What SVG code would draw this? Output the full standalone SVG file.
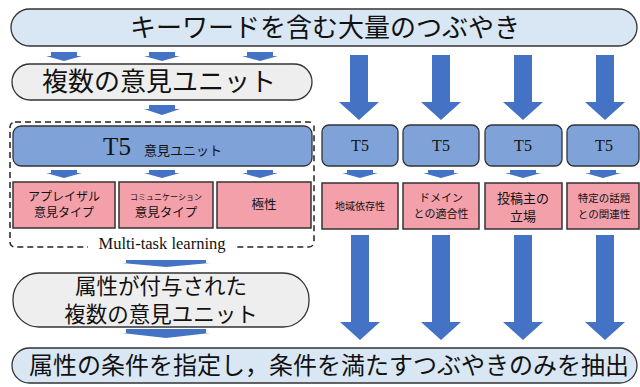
<svg xmlns="http://www.w3.org/2000/svg" width="640" height="387" viewBox="0 0 640 387">
<style>
.jp{font-family:"Noto Sans CJK JP","Noto Sans",sans-serif;fill:#111;text-anchor:middle}
.se{font-family:"Liberation Serif","DejaVu Serif",serif;fill:#111;text-anchor:middle}
.pillb{fill:#d9e7f4;stroke:#333;stroke-width:1.3}
.pillg{fill:#eeeeee;stroke:#333;stroke-width:1.3}
.t5{fill:#7fa2d8;stroke:#333;stroke-width:1.3}
.pink{fill:#f4a0ab;stroke:#333;stroke-width:1.5}
.arr{fill:#4472c4}
</style>
<rect width="640" height="387" fill="#fff"/>

<g id="connectors">
  <path class="arr" d="M51 52h26v4h5l-18 5l-18-5h5z"/>
  <path class="arr" d="M149 52h26v4h5l-18 5l-18-5h5z"/>
  <path class="arr" d="M247 52h26v4h5l-18 5l-18-5h5z"/>
  <path class="arr" d="M149 105h26v4h5l-18 6l-18-6h5z"/>
  <path class="arr" d="M51 170h26v3h5l-18 5l-18-5h5z"/>
  <path class="arr" d="M149 170h26v3h5l-18 5l-18-5h5z"/>
  <path class="arr" d="M247 170h26v3h5l-18 5l-18-5h5z"/>
  <path class="arr" d="M347 170h26v3h5l-18 5l-18-5h5z"/>
  <path class="arr" d="M428 170h26v3h5l-18 5l-18-5h5z"/>
  <path class="arr" d="M510 170h26v3h5l-18 5l-18-5h5z"/>
  <path class="arr" d="M590 170h26v3h5l-18 5l-18-5h5z"/>
  <path class="arr" d="M126 260h80v3h4l-44 4l-44-4h4z"/>
  <path class="arr" d="M126 329h80v4h4l-44 5l-44-5h4z"/>
  <path class="arr" d="M350 55h18v47h11l-20 18l-20-18h11z"/>
  <path class="arr" d="M432 55h18v47h11l-20 18l-20-18h11z"/>
  <path class="arr" d="M514 55h18v47h11l-20 18l-20-18h11z"/>
  <path class="arr" d="M596 55h18v47h11l-20 18l-20-18h11z"/>
  <path class="arr" d="M351 235h18v87h11l-20 18l-20-18h11z"/>
  <path class="arr" d="M432 235h18v87h11l-20 18l-20-18h11z"/>
  <path class="arr" d="M514 235h18v87h11l-20 18l-20-18h11z"/>
  <path class="arr" d="M596 235h18v87h11l-20 18l-20-18h11z"/>
</g>

<g id="top">
  <rect class="pillb" x="11" y="9" width="626" height="37" rx="18.5"/>
  <text class="jp" x="325" y="37" font-size="26">キーワードを含む大量のつぶやき</text>
</g>

<g id="units">
  <rect class="pillg" x="12" y="64" width="300" height="36" rx="18"/>
  <text class="jp" x="159" y="91" font-size="26">複数の意見ユニット</text>
</g>

<g id="mtl">
  <rect x="10" y="122" width="304" height="125" rx="5" fill="none" stroke="#222" stroke-width="1.5" stroke-dasharray="6 4"/>
  <rect x="88" y="238" width="146" height="14" fill="#fff"/>
  <text class="se" x="162" y="249" font-size="16.5">Multi-task learning</text>
</g>

<g id="t5main">
  <rect class="t5" x="13" y="126" width="299" height="40" rx="8"/>
  <text class="se" x="117" y="155" font-size="25">T5</text>
  <text class="jp" x="183" y="155" font-size="13">意見ユニット</text>
</g>

<g id="appraisal">
  <rect class="pink" x="13" y="182" width="102" height="46"/>
  <text class="jp" x="64" y="201" font-size="12">アプレイザル</text>
  <text class="jp" x="64" y="217" font-size="12">意見タイプ</text>
</g>
<g id="communication">
  <rect class="pink" x="119" y="182" width="94" height="46"/>
  <text class="jp" x="166" y="200" font-size="8">コミュニケーション</text>
  <text class="jp" x="166" y="217" font-size="12.5">意見タイプ</text>
</g>
<g id="polarity">
  <rect class="pink" x="217" y="182" width="94" height="46"/>
  <text class="jp" x="264" y="209" font-size="12.5">極性</text>
</g>

<g id="t5a">
  <rect class="t5" x="322" y="125" width="76" height="41" rx="7"/>
  <text class="se" x="360" y="151" font-size="16">T5</text>
</g>
<g id="t5b">
  <rect class="t5" x="403" y="125" width="76" height="41" rx="7"/>
  <text class="se" x="441" y="151" font-size="16">T5</text>
</g>
<g id="t5c">
  <rect class="t5" x="485" y="125" width="77" height="41" rx="7"/>
  <text class="se" x="523" y="151" font-size="16">T5</text>
</g>
<g id="t5d">
  <rect class="t5" x="567" y="125" width="72" height="41" rx="7"/>
  <text class="se" x="604" y="151" font-size="16">T5</text>
</g>

<g id="region">
  <rect class="pink" x="322" y="183" width="76" height="46"/>
  <text class="jp" x="360" y="210" font-size="10">地域依存性</text>
</g>
<g id="domain">
  <rect class="pink" x="403" y="183" width="76" height="46"/>
  <text class="jp" x="441" y="202" font-size="11">ドメイン</text>
  <text class="jp" x="441" y="218" font-size="11">との適合性</text>
</g>
<g id="stance">
  <rect class="pink" x="485" y="183" width="77" height="46"/>
  <text class="jp" x="523" y="203" font-size="13">投稿主の</text>
  <text class="jp" x="523" y="221" font-size="13">立場</text>
</g>
<g id="topic">
  <rect class="pink" x="567" y="183" width="72" height="46"/>
  <text class="jp" x="604" y="202" font-size="10.5">特定の話題</text>
  <text class="jp" x="604" y="218" font-size="10.5">との関連性</text>
</g>

<g id="attributed">
  <rect class="pillg" x="13" y="273" width="296" height="54" rx="26"/>
  <text class="jp" x="161" y="294" font-size="21.5">属性が付与された</text>
  <text class="jp" x="161" y="322" font-size="21.5">複数の意見ユニット</text>
</g>

<g id="extract">
  <rect class="pillb" x="12" y="348" width="625" height="35" rx="17.5"/>
  <text class="jp" x="329" y="374" font-size="24">属性の条件を指定し，条件を満たすつぶやきのみを抽出</text>
</g>
</svg>
